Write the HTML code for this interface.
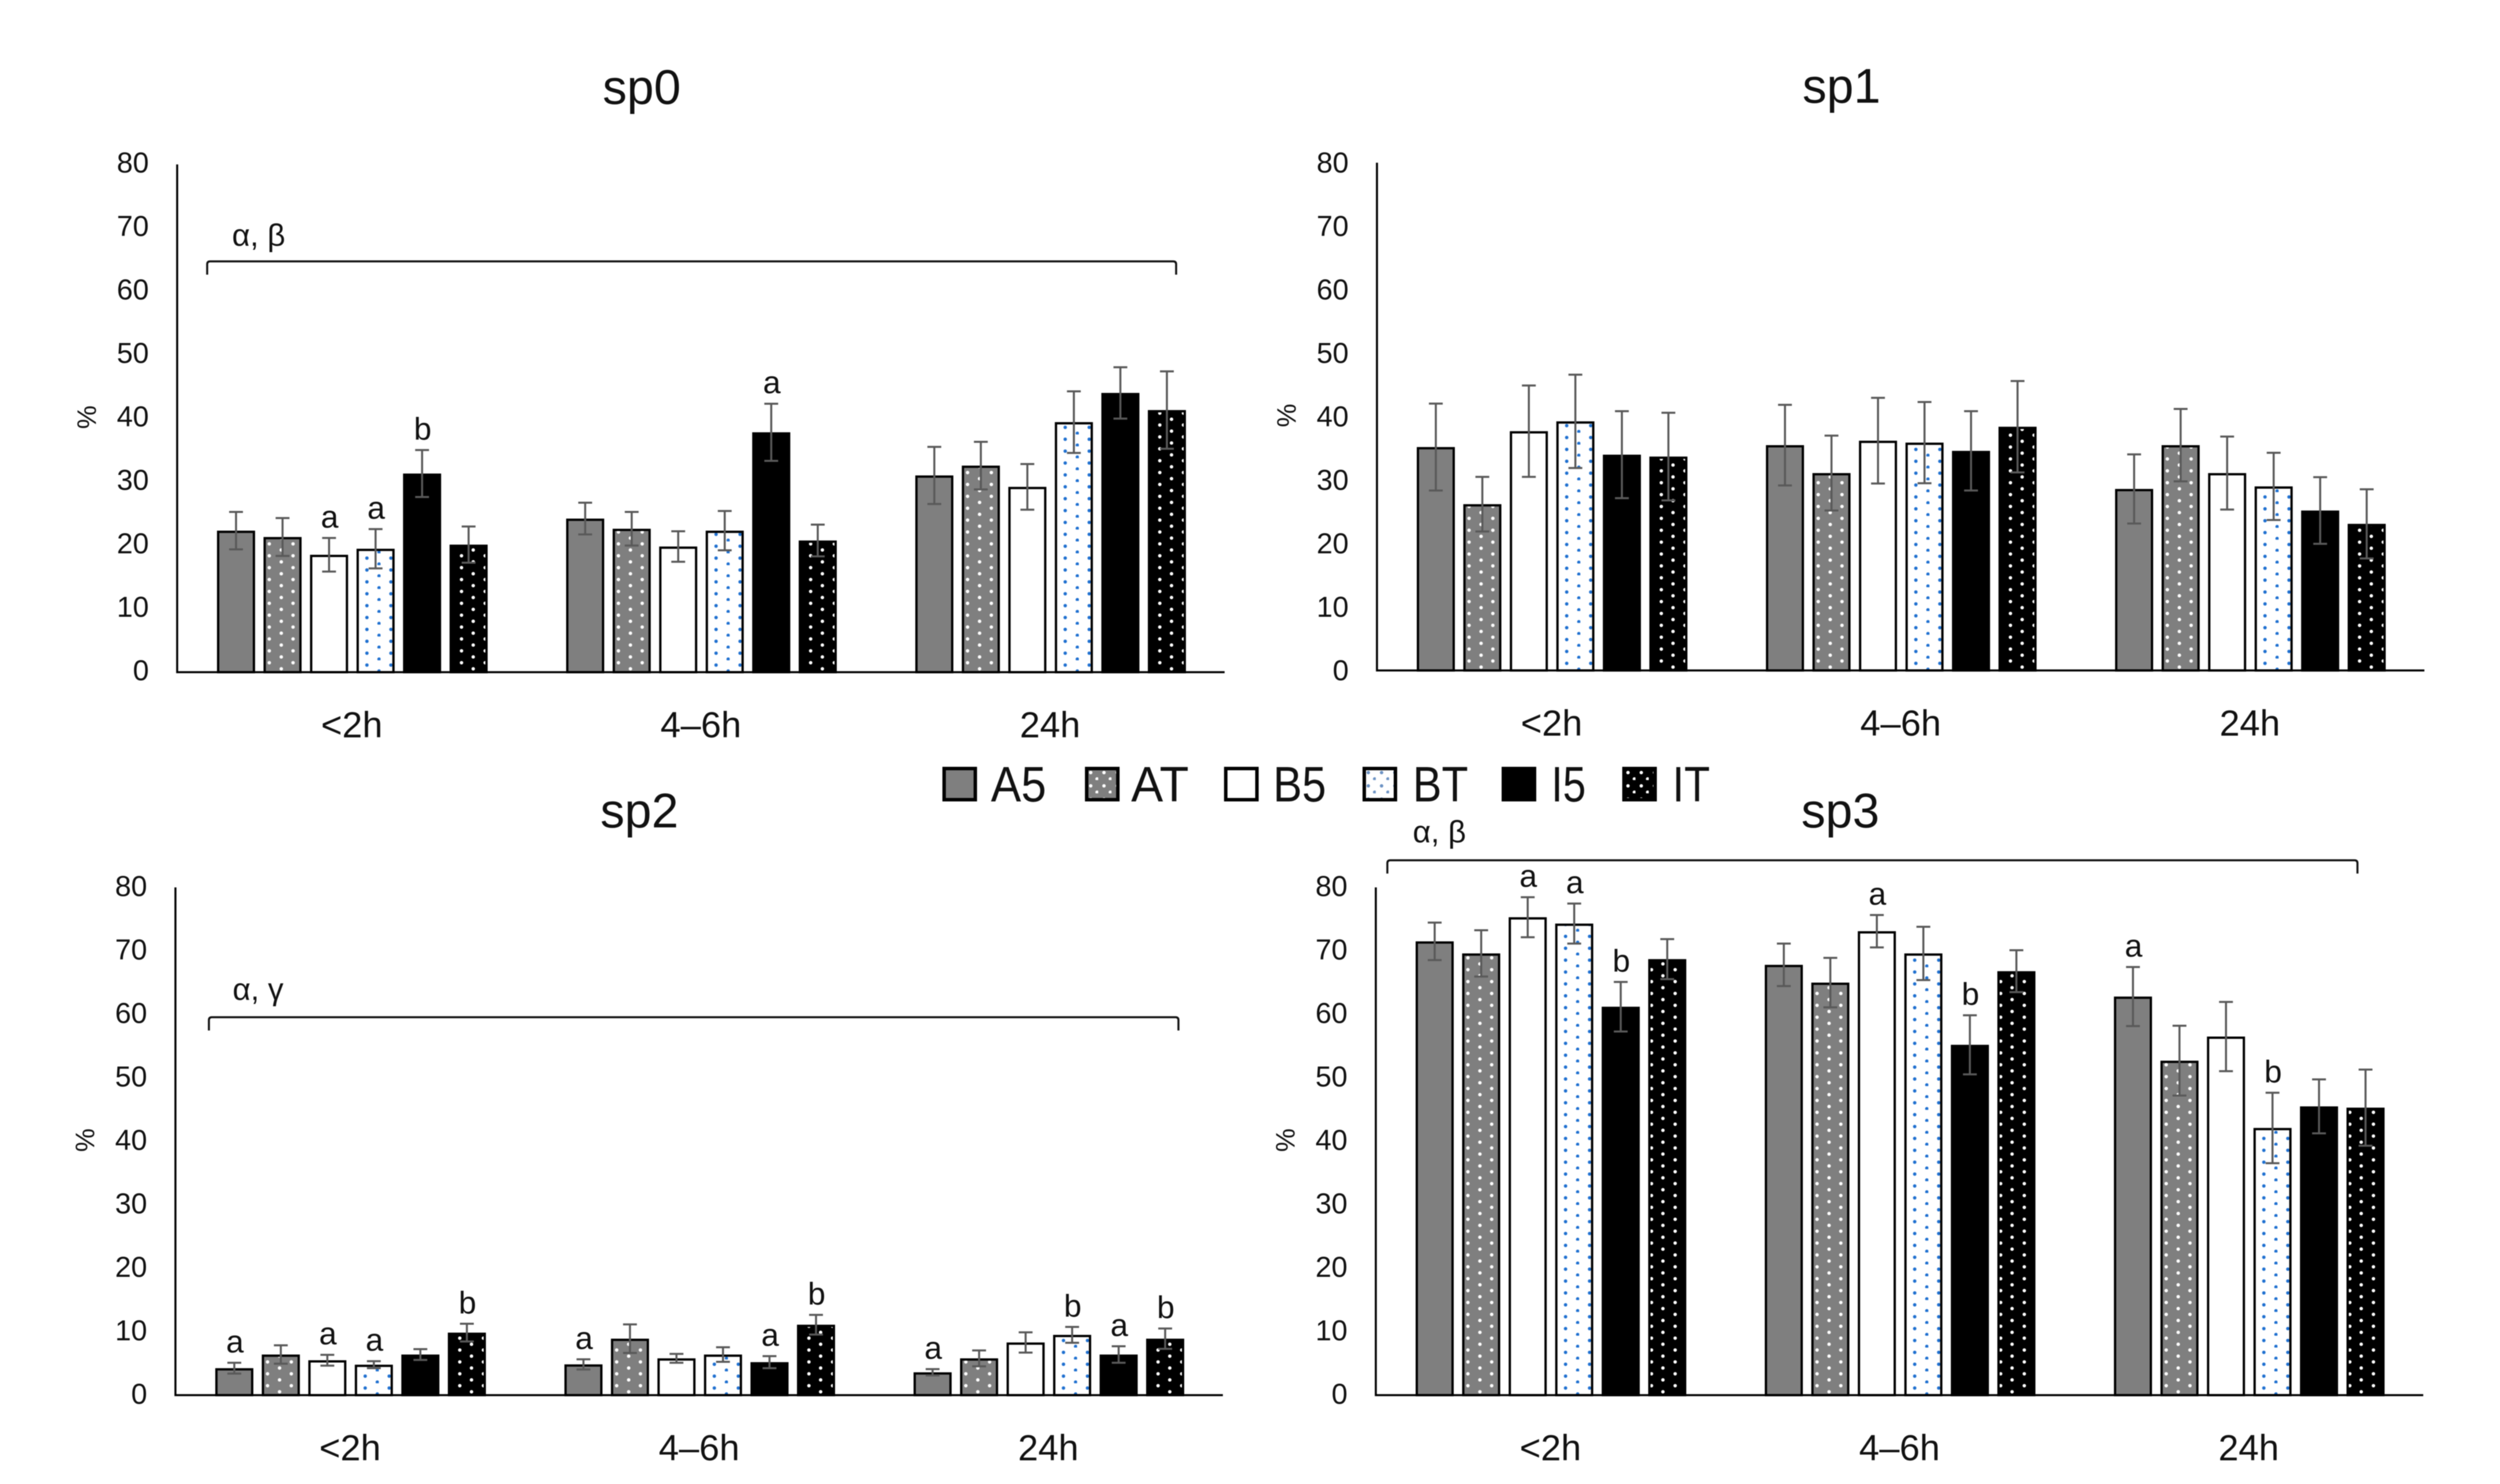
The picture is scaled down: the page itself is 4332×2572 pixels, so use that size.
<!DOCTYPE html>
<html lang="en">
<head>
<meta charset="utf-8">
<title>sp0–sp3 grouped bar charts</title>
<style>
html,body{margin:0;padding:0;background:#fff;}
#figure{display:block;width:4332px;height:2572px;filter:blur(0.9px);}
text{font-family:"Liberation Sans",sans-serif;fill:#111;}
</style>
</head>
<body>
<svg id="figure" xmlns="http://www.w3.org/2000/svg" width="4332" height="2572" viewBox="0 0 4332 2572">
<defs>
<pattern id="dots-at" patternUnits="userSpaceOnUse" width="41.2" height="20.6"><rect width="41.2" height="20.6" fill="#7f7f7f"/><circle cx="10" cy="4.2" r="3" fill="#fff"/><circle cx="30.8" cy="14.8" r="3" fill="#fff"/></pattern>
<pattern id="dots-bt" patternUnits="userSpaceOnUse" width="41.6" height="20.6"><rect width="41.6" height="20.6" fill="#fff"/><circle cx="18" cy="8.3" r="3" fill="#1f70d0"/><circle cx="39" cy="18.6" r="3" fill="#1f70d0"/></pattern>
<pattern id="dots-it" patternUnits="userSpaceOnUse" width="41" height="20.6"><rect width="41" height="20.6" fill="#000"/><circle cx="5.7" cy="4.2" r="3" fill="#fff"/><circle cx="25.5" cy="14.8" r="3" fill="#fff"/></pattern>
<pattern id="dots-it-alt" patternUnits="userSpaceOnUse" width="41" height="20.6"><rect width="41" height="20.6" fill="#000"/><circle cx="20.7" cy="4.2" r="3" fill="#fff"/><circle cx="41" cy="14.8" r="3" fill="#fff"/><circle cx="0" cy="14.8" r="3" fill="#fff"/></pattern>
<pattern id="legend-at" patternUnits="userSpaceOnUse" width="23" height="23"><rect width="23" height="23" fill="#7f7f7f"/><circle cx="10" cy="10" r="3" fill="#fff"/><circle cx="21" cy="21" r="3" fill="#fff"/></pattern>
<pattern id="legend-bt" patternUnits="userSpaceOnUse" width="23" height="23"><rect width="23" height="23" fill="#fff"/><circle cx="10" cy="10" r="3" fill="#6d93c4"/><circle cx="21" cy="21" r="3" fill="#6d93c4"/></pattern>
<pattern id="legend-it" patternUnits="userSpaceOnUse" width="23" height="23"><rect width="23" height="23" fill="#000"/><circle cx="10" cy="10" r="3" fill="#fff"/><circle cx="21" cy="21" r="3" fill="#fff"/></pattern>
</defs>
<g id="panels"></g>
<g id="legend">
  <g><rect transform="translate(1633,1329)" x="3" y="3" width="54" height="54" fill="#7f7f7f" stroke="#000" stroke-width="6"/><text x="1717" y="1389" font-size="86" textLength="96" lengthAdjust="spacingAndGlyphs">A5</text></g>
  <g><rect transform="translate(1880,1329)" x="3" y="3" width="54" height="54" fill="url(#legend-at)" stroke="#000" stroke-width="6"/><text x="1960" y="1389" font-size="86" textLength="100" lengthAdjust="spacingAndGlyphs">AT</text></g>
  <g><rect transform="translate(2121,1329)" x="3" y="3" width="54" height="54" fill="#fff" stroke="#000" stroke-width="6"/><text x="2206" y="1389" font-size="86" textLength="92" lengthAdjust="spacingAndGlyphs">B5</text></g>
  <g><rect transform="translate(2361,1329)" x="3" y="3" width="54" height="54" fill="url(#legend-bt)" stroke="#000" stroke-width="6"/><text x="2448" y="1389" font-size="86" textLength="96" lengthAdjust="spacingAndGlyphs">BT</text></g>
  <g><rect transform="translate(2602,1329)" x="3" y="3" width="54" height="54" fill="#000" stroke="#000" stroke-width="6"/><text x="2688" y="1389" font-size="86" textLength="60" lengthAdjust="spacingAndGlyphs">I5</text></g>
  <g><rect transform="translate(2811,1329)" x="3" y="3" width="54" height="54" fill="url(#legend-it)" stroke="#000" stroke-width="6"/><text x="2898" y="1389" font-size="86" textLength="65" lengthAdjust="spacingAndGlyphs">IT</text></g>
</g>
</svg>
<script>
const categories = ['<2h', '4–6h', '24h'];
const seriesNames = ['A5', 'AT', 'B5', 'BT', 'I5', 'IT'];
const yTicks = [0, 10, 20, 30, 40, 50, 60, 70, 80];

const sp0Values = [
  [22.3, 21.3, 18.5, 19.45, 31.3, 20.1],
  [24.2, 22.6, 19.8, 22.3, 37.8, 20.75],
  [31, 32.55, 29.2, 39.4, 44, 41.3]
];
const sp0Errors = [
  [2.95, 2.98, 2.65, 3.1, 3.7, 2.85],
  [2.5, 2.65, 2.4, 3.1, 4.5, 2.5],
  [4.5, 3.75, 3.6, 4.85, 4.05, 6.1]
];
const sp0Letters = [
  ['', '', 'a', 'a', 'b', ''],
  ['', '', '', '', 'a', ''],
  ['', '', '', '', '', '']
];

const sp1Values = [
  [35.2, 26.2, 37.7, 39.25, 34, 33.7],
  [35.5, 31.1, 36.2, 35.9, 34.6, 38.4],
  [28.6, 35.5, 31.1, 29, 25.2, 23.1]
];
const sp1Errors = [
  [6.85, 4.3, 7.2, 7.35, 6.85, 6.9],
  [6.35, 5.9, 6.75, 6.4, 6.25, 7.2],
  [5.45, 5.7, 5.75, 5.3, 5.25, 5.45]
];
const sp1Letters = [
  ['', '', '', '', '', ''],
  ['', '', '', '', '', ''],
  ['', '', '', '', '', '']
];

const sp2Values = [
  [4.25, 6.4, 5.5, 4.8, 6.4, 9.85],
  [4.85, 8.9, 5.8, 6.4, 5.2, 11.1],
  [3.6, 5.8, 8.3, 9.5, 6.4, 8.9]
];
const sp2Errors = [
  [0.85, 1.45, 0.85, 0.55, 0.85, 1.4],
  [0.8, 2.25, 0.7, 1.15, 0.95, 1.55],
  [0.5, 1.25, 1.6, 1.25, 1.3, 1.6]
];
const sp2Letters = [
  ['a', '', 'a', 'a', '', 'b'],
  ['a', '', '', '', 'a', 'b'],
  ['a', '', '', 'b', 'a', 'b']
];

const sp3Values = [
  [71.5, 69.6, 75.3, 74.3, 61.2, 68.7],
  [67.8, 65, 73.1, 69.6, 55.2, 66.8],
  [62.8, 52.7, 56.5, 42.1, 45.5, 45.3]
];
const sp3Errors = [
  [2.95, 3.65, 3.15, 3.15, 3.9, 3.15],
  [3.35, 3.9, 2.55, 4.2, 4.65, 3.3],
  [4.65, 5.5, 5.45, 5.55, 4.25, 6]
];
const sp3Letters = [
  ['', '', 'a', 'a', 'b', ''],
  ['', '', 'a', '', 'b', ''],
  ['a', '', '', 'b', '', '']
];

const SVG_NS = 'http://www.w3.org/2000/svg';
const BAR_PITCH = 80.6;
const BAR_WIDTH = 66;
const BAND = 605;
const UNIT = 11;
const seriesFills = ['#7f7f7f', 'url(#dots-at)', '#fff', 'url(#dots-bt)', '#000', 'url(#dots-it)'];

function node(tag, parent, props) {
  const el = document.createElementNS(SVG_NS, tag);
  for (const k in props) el.setAttribute(k, props[k]);
  parent.appendChild(el);
  return el;
}

function drawPanel(root, p) {
  const yScale = v => p.base - v * UNIT;
  const groupCenter = g => p.x0 + BAND * (g + 0.5) + 1;
  const barLeft = (g, s) => groupCenter(g) + (s - 2.5) * BAR_PITCH - BAR_WIDTH / 2;

  const panel = node('g', root, {});
  
  

  const title = node('text', panel, {x: p.titleX, y: p.titleY, 'font-size': 84, 'text-anchor': 'middle'});
  title.textContent = p.name;
  
  

  const yTitle = node('text', panel, {transform: 'translate(' + (p.x0 - 141) + ',' + (p.base - 442) + ') rotate(-90)', 'font-size': 46, 'text-anchor': 'middle'});
  yTitle.textContent = '%';
  
  

  yTicks.forEach(t => {
    const lab = node('text', panel, {x: p.x0 - 49, y: yScale(t) + p.tickDy, 'font-size': 50, 'text-anchor': 'end'});
    lab.textContent = t;
    
    
  });

  p.values.forEach((row, g) => {
    row.forEach((v, s) => {
      const fill = s === 5 ? p.itFill : seriesFills[s];
      const bar = node('rect', panel, {
        transform: 'translate(' + barLeft(g, s) + ',' + p.base + ')',
        x: 2, y: -(v * UNIT) + 2, width: BAR_WIDTH - 4, height: v * UNIT - 2,
        fill: fill, stroke: '#000', 'stroke-width': 4
      });
      
      
    });
  });

  p.values.forEach((row, g) => {
    row.forEach((v, s) => {
      const e = p.errors[g][s];
      const cx = barLeft(g, s) + BAR_WIDTH / 2;
      const top = yScale(v + e);
      const bottom = yScale(v - e);
      const err = node('path', panel, {
        d: 'M' + (cx - 12) + ' ' + top + 'H' + (cx + 12) + 'M' + cx + ' ' + top + 'V' + bottom + 'M' + (cx - 12) + ' ' + bottom + 'H' + (cx + 12),
        fill: 'none', stroke: '#595959', 'stroke-width': 3.5
      });
      
      
      const letter = p.letters[g][s];
      if (letter) {
        const t = node('text', panel, {x: cx + 1, y: top - 18, 'font-size': 55, 'text-anchor': 'middle'});
        t.textContent = letter;
        
        
      }
    });
  });

  const axes = node('path', panel, {
    d: 'M' + p.x0 + ' ' + yScale(80) + 'V' + p.base + 'H' + (p.x0 + BAND * 3),
    fill: 'none', stroke: '#000', 'stroke-width': 3.5
  });
  
  

  categories.forEach((c, g) => {
    const lab = node('text', panel, {x: groupCenter(g) - 1, y: p.base + 113, 'font-size': 63, 'text-anchor': 'middle'});
    lab.textContent = c;
    
    
  });

  if (p.bracket) {
    const b = p.bracket;
    const br = node('path', panel, {
      d: 'M' + b.l + ' ' + (b.y + 23) + 'V' + (b.y + 5) + 'Q' + b.l + ' ' + b.y + ' ' + (b.l + 5) + ' ' + b.y + 'H' + (b.r - 5) + 'Q' + b.r + ' ' + b.y + ' ' + b.r + ' ' + (b.y + 5) + 'V' + (b.y + 23),
      fill: 'none', stroke: '#111', 'stroke-width': 3.5
    });
    
    
    const bt = node('text', panel, {x: b.tx, y: b.ty, 'font-size': 54});
    bt.textContent = b.label;
    
    
  }
}

const root = document.getElementById('panels');
drawPanel(root, {name: 'sp0', x0: 307, base: 1165, tickDy: 14, titleX: 1112, titleY: 180, itFill: 'url(#dots-it-alt)', values: sp0Values, errors: sp0Errors, letters: sp0Letters,
  bracket: {l: 359, r: 2038, y: 453, tx: 402, ty: 426, label: 'α, β'}});
drawPanel(root, {name: 'sp1', x0: 2386, base: 1162, tickDy: 17, titleX: 3191, titleY: 178, itFill: 'url(#dots-it-alt)', values: sp1Values, errors: sp1Errors, letters: sp1Letters});
drawPanel(root, {name: 'sp2', x0: 304, base: 2418, tickDy: 15, titleX: 1108, titleY: 1434, itFill: 'url(#dots-it-alt)', values: sp2Values, errors: sp2Errors, letters: sp2Letters,
  bracket: {l: 362, r: 2042, y: 1763, tx: 403, ty: 1733, label: 'α, γ'}});
drawPanel(root, {name: 'sp3', x0: 2384, base: 2418, tickDy: 15, titleX: 3189, titleY: 1434, itFill: 'url(#dots-it)', values: sp3Values, errors: sp3Errors, letters: sp3Letters,
  bracket: {l: 2404, r: 4085, y: 1491, tx: 2448, ty: 1460, label: 'α, β'}});
</script>
</body>
</html>
